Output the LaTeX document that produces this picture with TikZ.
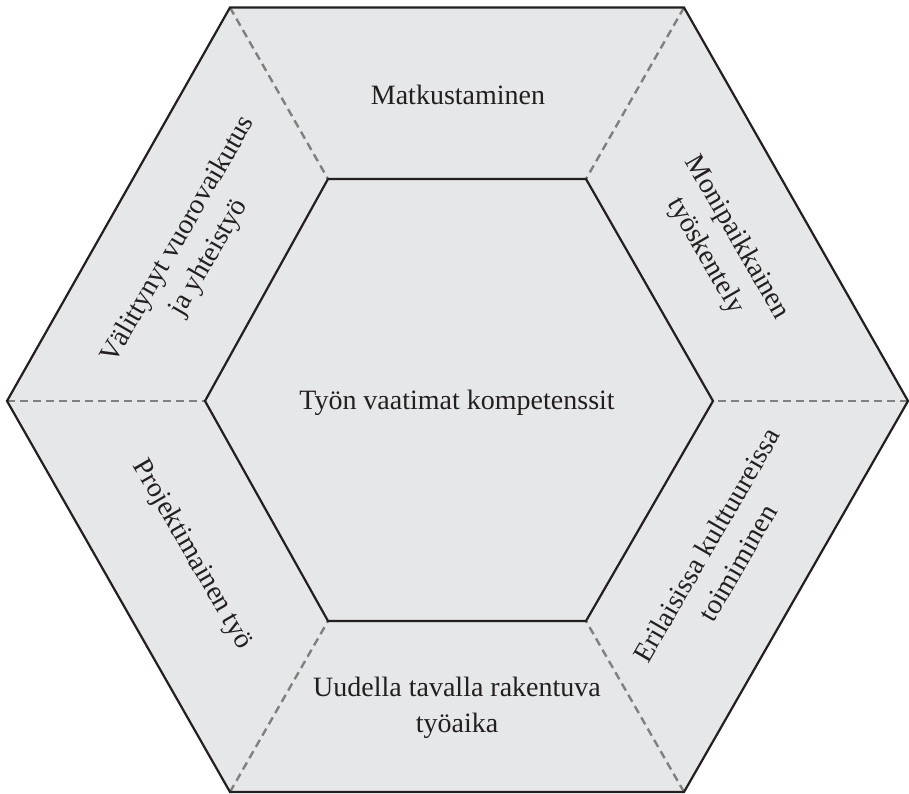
\documentclass[tikz,border=0pt]{standalone}
\usepackage{fontspec}
\setmainfont{Liberation Serif}
\definecolor{panelfill}{RGB}{230,231,232}
\definecolor{seamgray}{RGB}{128,128,128}
\definecolor{ink}{RGB}{35,31,32}
\begin{document}
\begin{tikzpicture}[x=1pt,y=-1pt,
  rim/.style={draw=ink, line width=2.2pt, line join=miter},
  seam/.style={draw=seamgray, line width=2.4pt, dash pattern=on 8pt off 5pt},
  label/.style={font=\fontsize{28}{36}\selectfont, align=center, text=ink, inner sep=0pt}]
  \useasboundingbox (0,0) rectangle (909,794);

  % outer hexagon corners
  \coordinate (o1) at (230,7.5);
  \coordinate (o2) at (684,7.5);
  \coordinate (o3) at (908,401);
  \coordinate (o4) at (684,792);
  \coordinate (o5) at (230,792);
  \coordinate (o6) at (7,401);
  % inner hexagon corners
  \coordinate (i1) at (328,179);
  \coordinate (i2) at (586,179);
  \coordinate (i3) at (713,401);
  \coordinate (i4) at (586,621);
  \coordinate (i5) at (328,621);
  \coordinate (i6) at (205,401);

  % shaded body
  \fill[panelfill] (o1) -- (o2) -- (o3) -- (o4) -- (o5) -- (o6) -- cycle;

  % dashed seams between the outer panels
  \foreach \k in {1,...,6} {
    \draw[seam] (o\k) -- (i\k);
  }

  % outlines
  \draw[rim] (o1) -- (o2) -- (o3) -- (o4) -- (o5) -- (o6) -- cycle;
  \draw[rim] (i1) -- (i2) -- (i3) -- (i4) -- (i5) -- (i6) -- cycle;

  % texts
  \node[label] (core) at (457,403) {Työn vaatimat kompetenssit};
  \node[label] (top) at (458,95) {Matkustaminen};
  \node[label] (bottom) at (457,708) {Uudella tavalla rakentuva\\työaika};
  \node[label, rotate=60] (upleft) at (194,249) {Välittynyt vuorovaikutus\\ja yhteistyö};
  \node[label, rotate=-60] (upright) at (721,247) {Monipaikkainen\\työskentely};
  \node[label, rotate=-60] (lowleft) at (192,555) {Projektimainen työ};
  \node[label, rotate=60] (lowright) at (722,554) {Erilaisissa kulttuureissa\\toimiminen};
\end{tikzpicture}
\end{document}
